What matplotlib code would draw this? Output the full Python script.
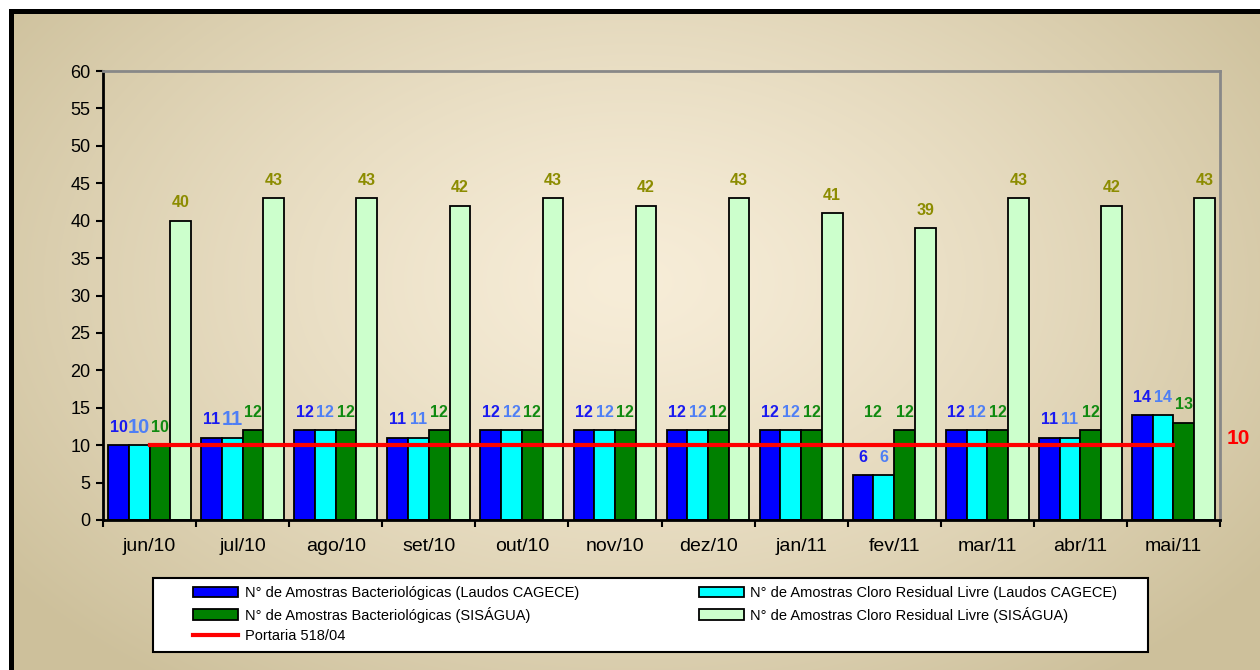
import numpy as np
import matplotlib
matplotlib.use("Agg")
import matplotlib.pyplot as plt
from matplotlib.patches import Patch, Rectangle
from matplotlib.lines import Line2D

plt.rcParams['font.family'] = ['Liberation Sans', 'DejaVu Sans']

categories = ["jun/10", "jul/10", "ago/10", "set/10", "out/10", "nov/10",
              "dez/10", "jan/11", "fev/11", "mar/11", "abr/11", "mai/11"]
bact_cagece = [10, 11, 12, 11, 12, 12, 12, 12, 6, 12, 11, 14]
cloro_cagece = [10, 11, 12, 11, 12, 12, 12, 12, 6, 12, 11, 14]
bact_sisagua = [10, 12, 12, 12, 12, 12, 12, 12, 12, 12, 12, 13]
cloro_sisagua = [40, 43, 43, 42, 43, 42, 43, 41, 39, 43, 42, 43]
portaria = [10] * 12

series_names = ["N° de Amostras Bacteriológicas (Laudos CAGECE)",
                "N° de Amostras Cloro Residual Livre (Laudos CAGECE)",
                "N° de Amostras Bacteriológicas (SISÁGUA)",
                "N° de Amostras Cloro Residual Livre (SISÁGUA)",
                "Portaria 518/04"]

W, H = 1260, 670
fig = plt.figure(figsize=(W / 100, H / 100), dpi=100)

# background gradient + frame
yy, xx = np.mgrid[0:H, 0:W]
cx, cy = 0.5 * W, 0.42 * H
d = np.sqrt(((xx - cx) / (0.62 * W)) ** 2 + ((yy - cy) / (0.75 * H)) ** 2)
t = np.clip(d, 0, 1) ** 1.3
c0 = np.array([247, 237, 216]) / 255.0
c1 = np.array([205, 192, 155]) / 255.0
img = c0[None, None, :] * (1 - t[..., None]) + c1[None, None, :] * t[..., None]
img[:9, :, :] = 1.0
img[:, :9, :] = 1.0
img[9:14, 9:, :] = 0.0
img[9:, 9:14, :] = 0.0
bg = fig.add_axes([0, 0, 1, 1], zorder=-10)
bg.imshow(img, aspect='auto', extent=[0, 1, 0, 1], interpolation='bilinear')
bg.set_xlim(0, 1)
bg.set_ylim(0, 1)
bg.axis('off')

ax = fig.add_axes([103 / W, 1 - 520 / H, (1220 - 103) / W, (520 - 71) / H])
ax.set_facecolor('none')

n = len(categories)
x = np.arange(n)
bw = 0.2225
offsets = np.array([-1.5, -0.5, 0.5, 1.5]) * bw
colors = ['#0000FF', '#00FFFF', '#008000', '#CCFFCC']
label_colors = ['#1A1AF0', '#4F7FF5', '#108A10', '#8C8C00']
data = [bact_cagece, cloro_cagece, bact_sisagua, cloro_sisagua]

for i, (vals, col) in enumerate(zip(data, colors)):
    ax.bar(x + offsets[i], vals, width=bw, color=col, edgecolor='black',
           linewidth=1.3, zorder=2)

# data labels
for i, vals in enumerate(data):
    for j, v in enumerate(vals):
        size = 11.5
        if i == 1 and j in (0, 1):
            size = 14.5
        ax.annotate(str(v), (x[j] + offsets[i], v), xytext=(0, 13),
                    textcoords='offset points', ha='center', va='center',
                    fontsize=size, fontweight='bold', color=label_colors[i],
                    zorder=5)
# extra green label shown in fev/11
j = categories.index("fev/11")
ax.annotate(str(bact_sisagua[j]), (x[j] + offsets[1], bact_sisagua[j]),
            xytext=(-8, 13), textcoords='offset points', ha='center',
            va='center', fontsize=11.5, fontweight='bold',
            color=label_colors[2], zorder=5)

# Portaria line
ax.plot(x, portaria, color='#FF0000', linewidth=3, zorder=4)
ax.annotate(str(portaria[-1]), (x[-1], portaria[-1]), xytext=(47, 5),
            textcoords='offset points', ha='center', va='center',
            fontsize=15, fontweight='bold', color='#FF0000',
            annotation_clip=False)

ax.set_xlim(-0.5, n - 0.5)
ax.set_ylim(0, 60)
ax.set_yticks(np.arange(0, 61, 5))
ax.set_xticks(x)
ax.set_xticklabels(categories)
ax.set_xticks(np.arange(-0.5, n, 1), minor=True)
ax.tick_params(axis='x', which='major', length=0, pad=13, labelsize=14)
ax.tick_params(axis='x', which='minor', length=5, width=1.5, direction='out')
ax.tick_params(axis='y', length=5, width=1.5, direction='out', labelsize=13,
               pad=4)

for side in ['left', 'bottom']:
    ax.spines[side].set_color('black')
    ax.spines[side].set_linewidth(2)
for side in ['top', 'right']:
    ax.spines[side].set_color('#888888')
    ax.spines[side].set_linewidth(2)

# legend frame
bg.add_patch(Rectangle((153 / W, 1 - 652 / H), (1148 - 153) / W, 74 / H,
                       facecolor='white', edgecolor='black', linewidth=1.5,
                       transform=bg.transAxes, zorder=1))

handles = [Patch(facecolor=colors[0], edgecolor='black', linewidth=1.3),
           Patch(facecolor=colors[2], edgecolor='black', linewidth=1.3),
           Line2D([], [], color='#FF0000', linewidth=3),
           Patch(facecolor=colors[1], edgecolor='black', linewidth=1.3),
           Patch(facecolor=colors[3], edgecolor='black', linewidth=1.3)]
labels = [series_names[0], series_names[2], series_names[4],
          series_names[1], series_names[3]]
leg = fig.legend(handles, labels, loc='upper left',
                 bbox_to_anchor=(193 / W, 1 - 586 / H),
                 bbox_transform=fig.transFigure, ncol=2,
                 fontsize=10.5, frameon=False,
                 handlelength=3.1, handleheight=0.7,
                 handletextpad=0.45, labelspacing=0.45, borderpad=0,
                 borderaxespad=0, columnspacing=8.2)

fig.savefig('out.png', dpi=100)
